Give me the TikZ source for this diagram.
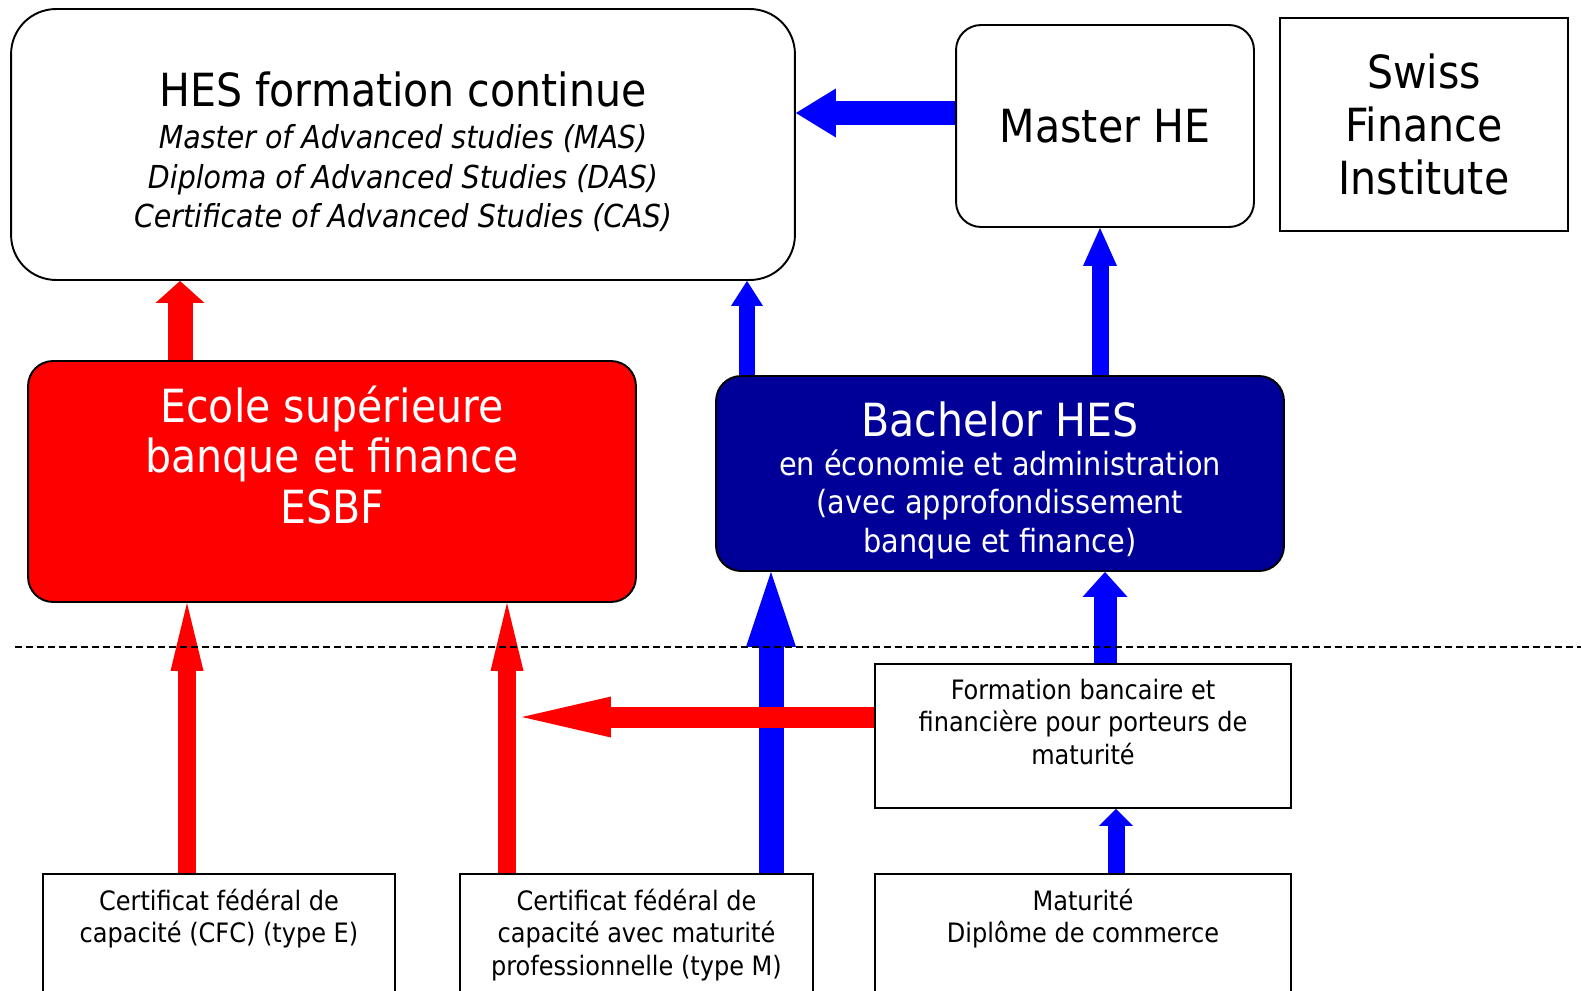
\documentclass[tikz,border=0pt]{standalone}
\usepackage{fontspec}
\setmainfont{DejaVu Sans Condensed}
\usetikzlibrary{arrows.meta}
\definecolor{esbfred}{RGB}{255,0,0}
\definecolor{bachelorblue}{RGB}{0,0,153}
\definecolor{arrowblue}{RGB}{0,0,255}
\newcommand{\fsbig}{\fontsize{26}{30}\selectfont}
\newcommand{\fsit}{\fontsize{18}{22.5}\selectfont\itshape}
\newcommand{\fsmid}{\fontsize{18.2}{22}\selectfont}
\newcommand{\fssmall}{\fontsize{15.2}{18.5}\selectfont}

\begin{document}
\begin{tikzpicture}[
  x=0.02cm, y=-0.02cm,
  box/.style={draw, line width=1.1pt, align=center, inner sep=0pt},
  roundbox/.style={box, rounded corners=0.5cm},
  toptext/.style={anchor=north, yshift=-0.31cm, font=\fssmall, align=center, inner sep=0pt},
  redarr/.style n args={3}{draw=esbfred, line width=#1, -{Triangle[length=#2, width=#3, line width=0pt]}},
  bluearr/.style n args={3}{draw=arrowblue, line width=#1, -{Triangle[length=#2, width=#3, line width=0pt]}}
]
  \useasboundingbox (0,0) rectangle (1581,990);
  \node[roundbox, rounded corners=0.9cm, minimum width=15.68cm, minimum height=5.42cm,
    label={[align=center, font=\fsit, yshift=-0.15cm]center:{{\fsbig\upshape HES formation continue}\\[1.2pt]Master of Advanced studies (MAS)\\Diploma of Advanced Studies (DAS)\\Certificate of Advanced Studies (CAS)}}] (hes) at (403,144.5) {};
  \node[roundbox, minimum width=5.96cm, minimum height=4.04cm, font=\fsbig] (master) at (1105,126) {Master HE};
  \node[box, minimum width=5.76cm, minimum height=4.26cm, font=\fsbig] (sfi) at (1424,124.5) {Swiss\\Finance\\Institute};
  \node[roundbox, fill=esbfred, minimum width=12.16cm, minimum height=4.82cm,
    label={[align=center, font=\fontsize{26}{28.8}\selectfont, text=white, yshift=0.53cm]center:{Ecole supérieure\\banque et finance\\ESBF}}] (esbf) at (332,481.5) {};
  \node[roundbox, fill=bachelorblue, minimum width=11.36cm, minimum height=3.9cm,
    label={[align=center, font=\fsmid, text=white, yshift=-0.14cm]center:{{\fsbig Bachelor HES}\\en économie et administration\\(avec approfondissement\\banque et finance)}}] (bachelor) at (1000,473.5) {};
  \node[box, minimum width=8.32cm, minimum height=2.88cm,
    label={[toptext]north:{Formation bancaire et\\financière pour porteurs de\\maturité}}] (formation) at (1083,736) {};
  \node[box, anchor=north, minimum width=7.04cm, minimum height=2.8cm,
    label={[toptext]north:{Certificat fédéral de\\capacité (CFC) (type E)}}] (cfce) at (219,873) {};
  \node[box, anchor=north, minimum width=7.06cm, minimum height=2.8cm,
    label={[toptext]north:{Certificat fédéral de\\capacité avec maturité\\professionnelle (type M)}}] (cfcm) at (636.5,873) {};
  \node[box, anchor=north, minimum width=8.32cm, minimum height=2.8cm,
    label={[toptext]north:{Maturité\\Diplôme de commerce}}] (matu) at (1083,873) {};
  \coordinate (redtip) at (522,717);

  \draw[redarr={0.5cm}{0.44cm}{0.98cm}] (esbf.north -| 180,0) -- (hes.south -| 180,0);
  \draw[bluearr={0.32cm}{0.5cm}{0.64cm}] (bachelor.north -| 747,0) -- (hes.south -| 747,0);
  \draw[bluearr={0.48cm}{0.8cm}{0.98cm}] (master.west |- 0,113) -- (hes.east |- 0,113);
  \draw[bluearr={0.34cm}{0.76cm}{0.68cm}] (bachelor.north -| 1100,0) -- (master.south -| 1100,0);
  \draw[bluearr={0.5cm}{1.5cm}{1.0cm}] (cfcm.north -| 771,0) -- (bachelor.south -| 771,0);
  \draw[bluearr={0.46cm}{0.5cm}{0.9cm}] (formation.north -| 1105,0) -- (bachelor.south -| 1105,0);
  \draw[bluearr={0.34cm}{0.34cm}{0.68cm}] (matu.north -| 1116,0) -- (formation.south -| 1116,0);
  \draw[redarr={0.36cm}{1.36cm}{0.66cm}] (cfce.north -| 187,0) -- (esbf.south -| 187,0);
  \draw[redarr={0.36cm}{1.36cm}{0.66cm}] (cfcm.north -| 507,0) -- (esbf.south -| 507,0);
  \draw[redarr={0.42cm}{1.78cm}{0.82cm}] (formation.west |- redtip) -- (redtip);
  \draw[line width=0.9pt, dash pattern=on 0.14cm off 0.08cm] (15,647) -- (1581,647);
\end{tikzpicture}
\end{document}
